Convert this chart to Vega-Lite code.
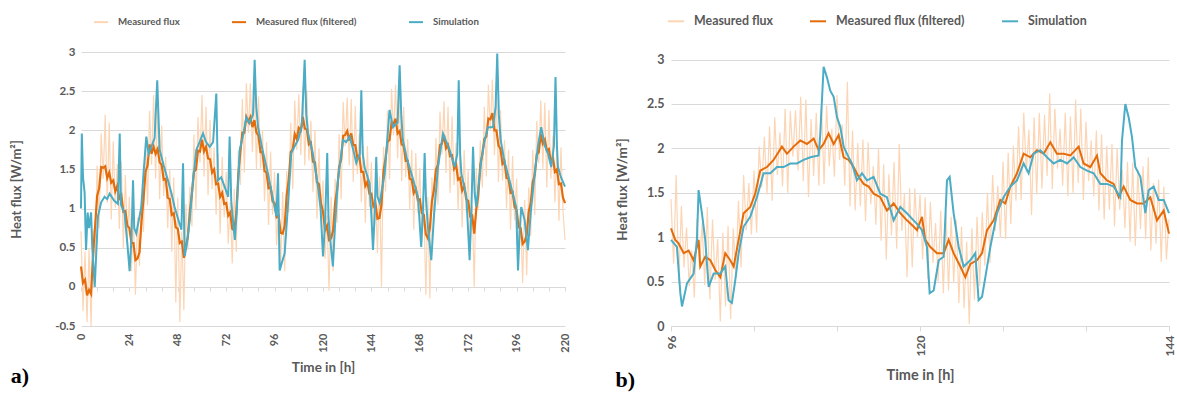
{
"$schema":"https://vega.github.io/schema/vega-lite/v6.json",
"background":"white",
"padding":{"left":10,"top":12,"right":2,"bottom":0},
"config":{"view":{"stroke":null},"font":"Lato",
"axis":{"labelFont":"Lato","titleFont":"Lato","labelColor":"#595959","titleColor":"#595959","labelFontWeight":"bold","titleFontWeight":"bold","gridColor":"#d9d9d9","domainColor":"#d9d9d9","tickColor":"#d9d9d9"}},
"spacing":45,
"resolve":{"scale":{"color":"independent"},"legend":{"color":"independent"}},
"datasets":{
"LM":[{"t":0,"v":0.71},{"t":1,"v":-0.31},{"t":2,"v":0.45},{"t":3,"v":-0.45},{"t":4,"v":0.5},{"t":5,"v":-0.5},{"t":6,"v":0.73},{"t":7,"v":0.36},{"t":8,"v":1.55},{"t":9,"v":0.75},{"t":10,"v":1.96},{"t":11,"v":1.38},{"t":12,"v":2.2},{"t":13,"v":1.07},{"t":14,"v":2.1},{"t":15,"v":0.86},{"t":16,"v":1.86},{"t":17,"v":1.01},{"t":18,"v":1.57},{"t":19,"v":0.74},{"t":20,"v":1.6},{"t":21,"v":0.49},{"t":22,"v":1.43},{"t":23,"v":0.61},{"t":24,"v":1.15},{"t":25,"v":0.2},{"t":26,"v":0.9},{"t":27,"v":-0.1},{"t":28,"v":0.89},{"t":29,"v":0.27},{"t":30,"v":1.15},{"t":31,"v":0.7},{"t":32,"v":1.9},{"t":33,"v":1.04},{"t":34,"v":2.25},{"t":35,"v":1.56},{"t":36,"v":2.45},{"t":37,"v":1.38},{"t":38,"v":2.35},{"t":39,"v":1.12},{"t":40,"v":2.06},{"t":41,"v":1.16},{"t":42,"v":1.66},{"t":43,"v":0.75},{"t":44,"v":1.5},{"t":45,"v":0.45},{"t":46,"v":1.4},{"t":47,"v":-0.2},{"t":48,"v":1.14},{"t":49,"v":-0.45},{"t":50,"v":0.71},{"t":51,"v":-0.3},{"t":52,"v":1.06},{"t":53,"v":0.47},{"t":54,"v":1.28},{"t":55,"v":0.77},{"t":56,"v":1.95},{"t":57,"v":0.99},{"t":58,"v":2.17},{"t":59,"v":1.59},{"t":60,"v":2.45},{"t":61,"v":1.41},{"t":62,"v":2.3},{"t":63,"v":1.17},{"t":64,"v":2.13},{"t":65,"v":1.25},{"t":66,"v":1.78},{"t":67,"v":0.92},{"t":68,"v":1.7},{"t":69,"v":0.68},{"t":70,"v":1.66},{"t":71,"v":0.89},{"t":72,"v":1.47},{"t":73,"v":0.55},{"t":74,"v":1.08},{"t":75,"v":0.3},{"t":76,"v":1.25},{"t":77,"v":0.45},{"t":78,"v":1.74},{"t":79,"v":1.3},{"t":80,"v":2.4},{"t":81,"v":1.46},{"t":82,"v":2.6},{"t":83,"v":1.97},{"t":84,"v":2.6},{"t":85,"v":1.72},{"t":86,"v":2.55},{"t":87,"v":1.5},{"t":88,"v":2.43},{"t":89,"v":1.51},{"t":90,"v":2.0},{"t":91,"v":1.09},{"t":92,"v":1.85},{"t":93,"v":0.79},{"t":94,"v":1.73},{"t":95,"v":0.92},{"t":96,"v":1.47},{"t":97,"v":0.53},{"t":98,"v":1.04},{"t":99,"v":0.25},{"t":100,"v":1.21},{"t":101,"v":0.2},{"t":102,"v":1.48},{"t":103,"v":0.95},{"t":104,"v":2.1},{"t":105,"v":1.25},{"t":106,"v":2.38},{"t":107,"v":1.75},{"t":108,"v":2.46},{"t":109,"v":1.68},{"t":110,"v":2.55},{"t":111,"v":1.55},{"t":112,"v":2.51},{"t":113,"v":1.61},{"t":114,"v":2.12},{"t":115,"v":1.21},{"t":116,"v":2.0},{"t":117,"v":0.87},{"t":118,"v":1.77},{"t":119,"v":0.9},{"t":120,"v":1.36},{"t":121,"v":0.36},{"t":122,"v":0.91},{"t":123,"v":-0.05},{"t":124,"v":1.15},{"t":125,"v":0.2},{"t":126,"v":1.38},{"t":127,"v":0.82},{"t":128,"v":1.95},{"t":129,"v":1.12},{"t":130,"v":2.36},{"t":131,"v":1.8},{"t":132,"v":2.42},{"t":133,"v":1.55},{"t":134,"v":2.4},{"t":135,"v":1.34},{"t":136,"v":2.31},{"t":137,"v":1.44},{"t":138,"v":1.96},{"t":139,"v":1.08},{"t":140,"v":1.8},{"t":141,"v":0.82},{"t":142,"v":1.8},{"t":143,"v":1.02},{"t":144,"v":1.59},{"t":145,"v":0.67},{"t":146,"v":1.2},{"t":147,"v":0.43},{"t":148,"v":1.41},{"t":149,"v":0.0},{"t":150,"v":1.79},{"t":151,"v":1.22},{"t":152,"v":2.25},{"t":153,"v":1.37},{"t":154,"v":2.53},{"t":155,"v":1.94},{"t":156,"v":2.58},{"t":157,"v":1.64},{"t":158,"v":2.45},{"t":159,"v":1.35},{"t":160,"v":2.3},{"t":161,"v":1.4},{"t":162,"v":1.89},{"t":163,"v":0.99},{"t":164,"v":1.75},{"t":165,"v":0.73},{"t":166,"v":1.71},{"t":167,"v":0.94},{"t":168,"v":1.52},{"t":169,"v":0.58},{"t":170,"v":1.05},{"t":171,"v":-0.1},{"t":172,"v":1.15},{"t":173,"v":-0.15},{"t":174,"v":1.4},{"t":175,"v":0.82},{"t":176,"v":1.9},{"t":177,"v":1.05},{"t":178,"v":2.24},{"t":179,"v":1.69},{"t":180,"v":2.37},{"t":181,"v":1.45},{"t":182,"v":2.3},{"t":183,"v":1.2},{"t":184,"v":2.18},{"t":185,"v":1.3},{"t":186,"v":1.84},{"t":187,"v":0.98},{"t":188,"v":1.8},{"t":189,"v":0.76},{"t":190,"v":1.75},{"t":191,"v":0.95},{"t":192,"v":1.5},{"t":193,"v":0.54},{"t":194,"v":1.04},{"t":195,"v":0.0},{"t":196,"v":1.52},{"t":197,"v":1.0},{"t":198,"v":1.87},{"t":199,"v":1.27},{"t":200,"v":2.3},{"t":201,"v":1.41},{"t":202,"v":2.58},{"t":203,"v":2.0},{"t":204,"v":2.65},{"t":205,"v":1.68},{"t":206,"v":2.45},{"t":207,"v":1.34},{"t":208,"v":2.26},{"t":209,"v":1.36},{"t":210,"v":1.88},{"t":211,"v":1.0},{"t":212,"v":1.75},{"t":213,"v":0.73},{"t":214,"v":1.67},{"t":215,"v":0.85},{"t":216,"v":1.38},{"t":217,"v":0.4},{"t":218,"v":0.88},{"t":219,"v":0.05},{"t":220,"v":1.11},{"t":221,"v":0.15},{"t":222,"v":1.27},{"t":223,"v":0.65},{"t":224,"v":1.75},{"t":225,"v":0.92},{"t":226,"v":2.12},{"t":227,"v":1.58},{"t":228,"v":2.38},{"t":229,"v":1.51},{"t":230,"v":2.35},{"t":231,"v":1.27},{"t":232,"v":2.26},{"t":233,"v":1.38},{"t":234,"v":1.93},{"t":235,"v":1.08},{"t":236,"v":1.85},{"t":237,"v":0.84},{"t":238,"v":1.78},{"t":239,"v":0.97},{"t":240,"v":0.6}],
"LF":[{"t":0,"v":0.26},{"t":1,"v":0.05},{"t":2,"v":0.09},{"t":3,"v":-0.11},{"t":4,"v":-0.04},{"t":5,"v":-0.09},{"t":6,"v":0.42},{"t":7,"v":0.78},{"t":8,"v":1.16},{"t":9,"v":1.26},{"t":10,"v":1.53},{"t":11,"v":1.52},{"t":12,"v":1.54},{"t":13,"v":1.39},{"t":14,"v":1.46},{"t":15,"v":1.33},{"t":16,"v":1.36},{"t":17,"v":1.22},{"t":18,"v":1.29},{"t":19,"v":1.13},{"t":20,"v":1.17},{"t":21,"v":0.96},{"t":22,"v":0.97},{"t":23,"v":0.78},{"t":24,"v":0.75},{"t":25,"v":0.56},{"t":26,"v":0.56},{"t":27,"v":0.34},{"t":28,"v":0.36},{"t":29,"v":0.44},{"t":30,"v":0.84},{"t":31,"v":1.12},{"t":32,"v":1.47},{"t":33,"v":1.55},{"t":34,"v":1.82},{"t":35,"v":1.7},{"t":36,"v":1.79},{"t":37,"v":1.7},{"t":38,"v":1.76},{"t":39,"v":1.59},{"t":40,"v":1.56},{"t":41,"v":1.37},{"t":42,"v":1.38},{"t":43,"v":1.14},{"t":44,"v":1.12},{"t":45,"v":0.92},{"t":46,"v":0.94},{"t":47,"v":0.76},{"t":48,"v":0.74},{"t":49,"v":0.56},{"t":50,"v":0.58},{"t":51,"v":0.37},{"t":52,"v":0.53},{"t":53,"v":0.64},{"t":54,"v":0.97},{"t":55,"v":1.19},{"t":56,"v":1.47},{"t":57,"v":1.5},{"t":58,"v":1.74},{"t":59,"v":1.73},{"t":60,"v":1.88},{"t":61,"v":1.73},{"t":62,"v":1.79},{"t":63,"v":1.64},{"t":64,"v":1.63},{"t":65,"v":1.46},{"t":66,"v":1.5},{"t":67,"v":1.31},{"t":68,"v":1.32},{"t":69,"v":1.15},{"t":70,"v":1.2},{"t":71,"v":1.06},{"t":72,"v":1.07},{"t":73,"v":0.91},{"t":74,"v":0.95},{"t":75,"v":0.74},{"t":76,"v":0.72},{"t":77,"v":0.94},{"t":78,"v":1.43},{"t":79,"v":1.72},{"t":80,"v":1.97},{"t":81,"v":1.97},{"t":82,"v":2.17},{"t":83,"v":2.11},{"t":84,"v":2.17},{"t":85,"v":2.04},{"t":86,"v":2.13},{"t":87,"v":1.97},{"t":88,"v":1.93},{"t":89,"v":1.72},{"t":90,"v":1.72},{"t":91,"v":1.48},{"t":92,"v":1.46},{"t":93,"v":1.26},{"t":94,"v":1.27},{"t":95,"v":1.09},{"t":96,"v":1.07},{"t":97,"v":0.89},{"t":98,"v":0.91},{"t":99,"v":0.69},{"t":100,"v":0.68},{"t":101,"v":0.78},{"t":102,"v":1.17},{"t":103,"v":1.37},{"t":104,"v":1.72},{"t":105,"v":1.76},{"t":106,"v":1.95},{"t":107,"v":1.89},{"t":108,"v":2.03},{"t":109,"v":2.0},{"t":110,"v":2.17},{"t":111,"v":2.02},{"t":112,"v":2.01},{"t":113,"v":1.82},{"t":114,"v":1.84},{"t":115,"v":1.6},{"t":116,"v":1.59},{"t":117,"v":1.34},{"t":118,"v":1.31},{"t":119,"v":1.07},{"t":120,"v":0.96},{"t":121,"v":0.72},{"t":122,"v":0.78},{"t":123,"v":0.6},{"t":124,"v":0.62},{"t":125,"v":0.72},{"t":126,"v":1.07},{"t":127,"v":1.24},{"t":128,"v":1.53},{"t":129,"v":1.63},{"t":130,"v":1.93},{"t":131,"v":1.94},{"t":132,"v":1.99},{"t":133,"v":1.87},{"t":134,"v":1.96},{"t":135,"v":1.81},{"t":136,"v":1.81},{"t":137,"v":1.65},{"t":138,"v":1.68},{"t":139,"v":1.47},{"t":140,"v":1.47},{"t":141,"v":1.29},{"t":142,"v":1.34},{"t":143,"v":1.19},{"t":144,"v":1.19},{"t":145,"v":1.03},{"t":146,"v":1.07},{"t":147,"v":0.87},{"t":148,"v":0.88},{"t":149,"v":1.05},{"t":150,"v":1.48},{"t":151,"v":1.64},{"t":152,"v":1.85},{"t":153,"v":1.88},{"t":154,"v":2.1},{"t":155,"v":2.08},{"t":156,"v":2.15},{"t":157,"v":1.96},{"t":158,"v":1.99},{"t":159,"v":1.82},{"t":160,"v":1.8},{"t":161,"v":1.61},{"t":162,"v":1.61},{"t":163,"v":1.38},{"t":164,"v":1.37},{"t":165,"v":1.2},{"t":166,"v":1.25},{"t":167,"v":1.11},{"t":168,"v":1.12},{"t":169,"v":0.94},{"t":170,"v":0.92},{"t":171,"v":0.67},{"t":172,"v":0.62},{"t":173,"v":0.75},{"t":174,"v":1.09},{"t":175,"v":1.24},{"t":176,"v":1.5},{"t":177,"v":1.56},{"t":178,"v":1.81},{"t":179,"v":1.83},{"t":180,"v":1.94},{"t":181,"v":1.77},{"t":182,"v":1.81},{"t":183,"v":1.67},{"t":184,"v":1.68},{"t":185,"v":1.51},{"t":186,"v":1.56},{"t":187,"v":1.37},{"t":188,"v":1.39},{"t":189,"v":1.23},{"t":190,"v":1.29},{"t":191,"v":1.12},{"t":192,"v":1.1},{"t":193,"v":0.9},{"t":194,"v":0.91},{"t":195,"v":0.68},{"t":196,"v":0.99},{"t":197,"v":1.17},{"t":198,"v":1.56},{"t":199,"v":1.69},{"t":200,"v":1.89},{"t":201,"v":1.92},{"t":202,"v":2.15},{"t":203,"v":2.14},{"t":204,"v":2.22},{"t":205,"v":2.0},{"t":206,"v":2.0},{"t":207,"v":1.81},{"t":208,"v":1.76},{"t":209,"v":1.57},{"t":210,"v":1.6},{"t":211,"v":1.39},{"t":212,"v":1.38},{"t":213,"v":1.2},{"t":214,"v":1.21},{"t":215,"v":1.02},{"t":216,"v":0.98},{"t":217,"v":0.76},{"t":218,"v":0.75},{"t":219,"v":0.55},{"t":220,"v":0.58},{"t":221,"v":0.66},{"t":222,"v":0.96},{"t":223,"v":1.07},{"t":224,"v":1.34},{"t":225,"v":1.43},{"t":226,"v":1.69},{"t":227,"v":1.72},{"t":228,"v":1.95},{"t":229,"v":1.83},{"t":230,"v":1.88},{"t":231,"v":1.74},{"t":232,"v":1.76},{"t":233,"v":1.59},{"t":234,"v":1.65},{"t":235,"v":1.47},{"t":236,"v":1.5},{"t":237,"v":1.31},{"t":238,"v":1.32},{"t":239,"v":1.14},{"t":240,"v":1.07}],
"LS":[{"t":0,"v":1.0},{"t":0.4,"v":1.96},{"t":1.0,"v":1.4},{"t":1.8,"v":1.2},{"t":2.5,"v":0.47},{"t":3.3,"v":0.95},{"t":4.0,"v":0.75},{"t":5.0,"v":0.95},{"t":5.6,"v":0.5},{"t":6.8,"v":0.0},{"t":8.4,"v":0.9},{"t":10,"v":1.08},{"t":11.7,"v":1.15},{"t":13,"v":1.12},{"t":14.2,"v":1.19},{"t":16.5,"v":1.1},{"t":18.3,"v":1.06},{"t":19.2,"v":1.96},{"t":19.8,"v":1.05},{"t":21.6,"v":0.94},{"t":23,"v":0.55},{"t":24.1,"v":0.2},{"t":25.0,"v":0.6},{"t":25.8,"v":1.36},{"t":26.4,"v":0.75},{"t":27.4,"v":0.68},{"t":29.9,"v":1.02},{"t":31.0,"v":1.45},{"t":32.4,"v":1.92},{"t":33.5,"v":1.7},{"t":34.9,"v":1.79},{"t":36.5,"v":1.9},{"t":37.8,"v":2.64},{"t":39.0,"v":1.75},{"t":41.0,"v":1.55},{"t":43.1,"v":1.36},{"t":44.8,"v":1.2},{"t":46.4,"v":1.02},{"t":48.0,"v":0.88},{"t":49.8,"v":0.73},{"t":50.6,"v":1.58},{"t":51.4,"v":0.39},{"t":52.5,"v":0.55},{"t":53.9,"v":0.85},{"t":55.5,"v":1.35},{"t":57.2,"v":1.75},{"t":58.8,"v":1.85},{"t":60.5,"v":1.96},{"t":62.0,"v":1.85},{"t":63.8,"v":1.79},{"t":65.5,"v":1.85},{"t":67.1,"v":2.47},{"t":67.9,"v":1.36},{"t":69.5,"v":1.4},{"t":71.2,"v":1.28},{"t":73.0,"v":1.15},{"t":73.7,"v":1.92},{"t":74.5,"v":1.1},{"t":75.5,"v":0.8},{"t":76.3,"v":0.6},{"t":77.3,"v":1.0},{"t":78.7,"v":1.75},{"t":80.5,"v":1.95},{"t":82.0,"v":2.17},{"t":83.6,"v":2.09},{"t":85.3,"v":2.2},{"t":86.1,"v":2.9},{"t":86.9,"v":2.3},{"t":87.8,"v":2.04},{"t":90,"v":1.75},{"t":92.7,"v":1.45},{"t":95,"v":1.15},{"t":96.9,"v":0.9},{"t":97.7,"v":1.45},{"t":98.5,"v":0.21},{"t":99.5,"v":0.3},{"t":101.0,"v":0.43},{"t":102.5,"v":1.0},{"t":104.3,"v":1.71},{"t":106,"v":1.8},{"t":107.6,"v":1.875},{"t":109.5,"v":2.05},{"t":110.9,"v":2.9},{"t":111.7,"v":2.2},{"t":112.6,"v":1.96},{"t":115,"v":1.7},{"t":117.5,"v":1.28},{"t":118.8,"v":1.0},{"t":120.0,"v":0.39},{"t":121.0,"v":0.8},{"t":122.1,"v":1.71},{"t":122.7,"v":0.9},{"t":123.3,"v":0.68},{"t":124.9,"v":0.26},{"t":126.0,"v":0.8},{"t":127.4,"v":1.36},{"t":129.9,"v":1.875},{"t":131.5,"v":1.85},{"t":133.2,"v":1.92},{"t":135,"v":1.75},{"t":136.5,"v":1.58},{"t":138.3,"v":1.7},{"t":139.0,"v":2.51},{"t":139.7,"v":1.7},{"t":140.6,"v":1.53},{"t":143.1,"v":1.32},{"t":144.0,"v":0.9},{"t":144.8,"v":0.47},{"t":145.6,"v":0.9},{"t":146.4,"v":1.66},{"t":147.0,"v":1.15},{"t":148.1,"v":1.07},{"t":150.6,"v":1.45},{"t":153.0,"v":2.26},{"t":154.7,"v":2.04},{"t":157.0,"v":2.1},{"t":158.0,"v":2.83},{"t":158.8,"v":2.2},{"t":159.6,"v":1.875},{"t":161.5,"v":1.65},{"t":163.8,"v":1.45},{"t":167.1,"v":1.15},{"t":168.7,"v":0.51},{"t":169.6,"v":1.0},{"t":170.4,"v":1.71},{"t":171.1,"v":1.1},{"t":172.0,"v":0.77},{"t":173.7,"v":0.34},{"t":175.0,"v":0.9},{"t":177.0,"v":1.53},{"t":179.5,"v":1.96},{"t":182.8,"v":1.75},{"t":185.3,"v":1.53},{"t":186.6,"v":1.7},{"t":187.3,"v":2.64},{"t":188.0,"v":1.7},{"t":188.6,"v":1.45},{"t":191.1,"v":1.15},{"t":192.0,"v":0.7},{"t":192.7,"v":0.34},{"t":193.6,"v":1.0},{"t":194.4,"v":1.79},{"t":195.2,"v":1.2},{"t":196.0,"v":1.02},{"t":198.5,"v":1.62},{"t":200,"v":1.85},{"t":201.8,"v":2.04},{"t":204.3,"v":2.04},{"t":205.6,"v":2.3},{"t":206.4,"v":2.98},{"t":207.2,"v":2.2},{"t":208.1,"v":1.875},{"t":210,"v":1.6},{"t":212.5,"v":1.36},{"t":215.0,"v":1.1},{"t":215.8,"v":1.02},{"t":216.7,"v":0.21},{"t":217.5,"v":0.7},{"t":218.3,"v":1.02},{"t":220.0,"v":0.85},{"t":221.6,"v":0.47},{"t":223,"v":0.95},{"t":225.0,"v":1.45},{"t":226.6,"v":1.8},{"t":228.2,"v":2.04},{"t":230,"v":1.8},{"t":231.5,"v":1.71},{"t":233.2,"v":1.53},{"t":234.5,"v":1.8},{"t":235.3,"v":2.68},{"t":236.0,"v":1.8},{"t":236.5,"v":1.53},{"t":238,"v":1.4},{"t":240,"v":1.28}],
"RM":[{"t":96,"v":1.43},{"t":96.25,"v":0.7},{"t":96.5,"v":1.7},{"t":96.75,"v":0.48},{"t":97,"v":1.35},{"t":97.25,"v":0.66},{"t":97.5,"v":1.11},{"t":97.75,"v":0.45},{"t":98,"v":0.85},{"t":98.25,"v":0.32},{"t":98.5,"v":1.21},{"t":98.75,"v":0.67},{"t":99,"v":1.16},{"t":99.25,"v":0.46},{"t":99.5,"v":1.34},{"t":99.75,"v":0.3},{"t":100,"v":1.2},{"t":100.25,"v":0.52},{"t":100.5,"v":0.98},{"t":100.75,"v":0.05},{"t":101,"v":1.05},{"t":101.25,"v":0.22},{"t":101.5,"v":1.13},{"t":101.75,"v":0.08},{"t":102,"v":1.1},{"t":102.25,"v":0.54},{"t":102.5,"v":1.41},{"t":102.75,"v":0.66},{"t":103,"v":1.7},{"t":103.25,"v":1.08},{"t":103.5,"v":1.61},{"t":103.75,"v":1.03},{"t":104,"v":1.75},{"t":104.25,"v":1.05},{"t":104.5,"v":2.02},{"t":104.75,"v":1.56},{"t":105,"v":2.13},{"t":105.25,"v":1.48},{"t":105.5,"v":2.25},{"t":105.75,"v":1.41},{"t":106,"v":2.35},{"t":106.25,"v":1.7},{"t":106.5,"v":2.18},{"t":106.75,"v":1.57},{"t":107,"v":2.45},{"t":107.25,"v":1.5},{"t":107.5,"v":2.42},{"t":107.75,"v":1.91},{"t":108,"v":2.43},{"t":108.25,"v":1.75},{"t":108.5,"v":2.58},{"t":108.75,"v":1.63},{"t":109,"v":2.55},{"t":109.25,"v":1.45},{"t":109.5,"v":2.33},{"t":109.75,"v":1.69},{"t":110,"v":2.4},{"t":110.25,"v":1.58},{"t":110.5,"v":2.5},{"t":110.75,"v":1.6},{"t":111,"v":2.48},{"t":111.25,"v":1.8},{"t":111.5,"v":2.22},{"t":111.75,"v":1.68},{"t":112,"v":2.6},{"t":112.25,"v":1.87},{"t":112.5,"v":2.27},{"t":112.75,"v":1.58},{"t":113,"v":2.75},{"t":113.25,"v":1.35},{"t":113.5,"v":2.2},{"t":113.75,"v":1.3},{"t":114,"v":2.06},{"t":114.25,"v":1.35},{"t":114.5,"v":2.1},{"t":114.75,"v":1.18},{"t":115,"v":2.07},{"t":115.25,"v":1.37},{"t":115.5,"v":1.8},{"t":115.75,"v":1.14},{"t":116,"v":2.0},{"t":116.25,"v":0.96},{"t":116.5,"v":1.82},{"t":116.75,"v":0.75},{"t":117,"v":1.71},{"t":117.25,"v":1.02},{"t":117.5,"v":1.85},{"t":117.75,"v":0.87},{"t":118,"v":2.05},{"t":118.25,"v":1.07},{"t":118.5,"v":1.49},{"t":118.75,"v":0.55},{"t":119,"v":1.55},{"t":119.25,"v":0.66},{"t":119.5,"v":1.55},{"t":119.75,"v":0.99},{"t":120,"v":1.48},{"t":120.25,"v":0.75},{"t":120.5,"v":1.45},{"t":120.75,"v":0.53},{"t":121,"v":1.4},{"t":121.25,"v":0.71},{"t":121.5,"v":1.16},{"t":121.75,"v":0.5},{"t":122,"v":1.3},{"t":122.25,"v":0.37},{"t":122.5,"v":1.27},{"t":122.75,"v":0.4},{"t":123,"v":1.23},{"t":123.25,"v":0.49},{"t":123.5,"v":1.2},{"t":123.75,"v":0.26},{"t":124,"v":1.12},{"t":124.25,"v":0.2},{"t":124.5,"v":0.95},{"t":124.75,"v":0.02},{"t":125,"v":1.1},{"t":125.25,"v":0.29},{"t":125.5,"v":1.23},{"t":125.75,"v":0.45},{"t":126,"v":1.28},{"t":126.25,"v":0.68},{"t":126.5,"v":1.5},{"t":126.75,"v":0.71},{"t":127,"v":1.7},{"t":127.25,"v":1.07},{"t":127.5,"v":1.58},{"t":127.75,"v":0.99},{"t":128,"v":1.85},{"t":128.25,"v":0.98},{"t":128.5,"v":1.95},{"t":128.75,"v":1.15},{"t":129,"v":2.03},{"t":129.25,"v":1.41},{"t":129.5,"v":2.25},{"t":129.75,"v":1.42},{"t":130,"v":2.4},{"t":130.25,"v":1.73},{"t":130.5,"v":2.21},{"t":130.75,"v":1.25},{"t":131,"v":2.35},{"t":131.25,"v":1.48},{"t":131.5,"v":2.4},{"t":131.75,"v":1.55},{"t":132,"v":2.38},{"t":132.25,"v":1.69},{"t":132.5,"v":2.62},{"t":132.75,"v":1.54},{"t":133,"v":2.45},{"t":133.25,"v":1.77},{"t":133.5,"v":2.22},{"t":133.75,"v":1.58},{"t":134,"v":2.4},{"t":134.25,"v":1.46},{"t":134.5,"v":2.36},{"t":134.75,"v":1.5},{"t":135,"v":2.55},{"t":135.25,"v":1.61},{"t":135.5,"v":2.45},{"t":135.75,"v":1.42},{"t":136,"v":2.3},{"t":136.25,"v":1.63},{"t":136.5,"v":2.09},{"t":136.75,"v":1.46},{"t":137,"v":2.2},{"t":137.25,"v":1.3},{"t":137.5,"v":2.16},{"t":137.75,"v":1.2},{"t":138,"v":2.03},{"t":138.25,"v":1.31},{"t":138.5,"v":2.05},{"t":138.75,"v":1.12},{"t":139,"v":2.0},{"t":139.25,"v":1.31},{"t":139.5,"v":1.76},{"t":139.75,"v":1.1},{"t":140,"v":1.85},{"t":140.25,"v":0.95},{"t":140.5,"v":1.84},{"t":140.75,"v":0.9},{"t":141,"v":1.76},{"t":141.25,"v":1.09},{"t":141.5,"v":1.8},{"t":141.75,"v":0.98},{"t":142,"v":1.9},{"t":142.25,"v":0.85},{"t":142.5,"v":1.61},{"t":142.75,"v":0.93},{"t":143,"v":1.65},{"t":143.25,"v":0.72},{"t":143.5,"v":1.57},{"t":143.75,"v":0.75},{"t":144,"v":1.2}],
"RF":[{"t":96,"v":1.1},{"t":96.41,"v":0.97},{"t":96.73,"v":0.93},{"t":97.22,"v":0.82},{"t":97.7,"v":0.85},{"t":98.18,"v":0.74},{"t":98.66,"v":0.97},{"t":98.82,"v":0.67},{"t":99.3,"v":0.78},{"t":99.79,"v":0.74},{"t":100.27,"v":0.63},{"t":100.75,"v":0.55},{"t":101.23,"v":0.82},{"t":101.71,"v":0.74},{"t":102.04,"v":0.67},{"t":102.52,"v":0.97},{"t":103.0,"v":1.27},{"t":103.64,"v":1.34},{"t":104.12,"v":1.49},{"t":104.6,"v":1.75},{"t":105.25,"v":1.79},{"t":105.89,"v":1.87},{"t":106.69,"v":2.02},{"t":107.18,"v":1.94},{"t":107.82,"v":2.02},{"t":108.46,"v":2.09},{"t":109.1,"v":2.05},{"t":109.75,"v":2.11},{"t":110.23,"v":1.98},{"t":110.71,"v":2.05},{"t":111.19,"v":2.17},{"t":111.68,"v":2.05},{"t":112.16,"v":2.15},{"t":112.64,"v":1.9},{"t":113.12,"v":1.87},{"t":113.6,"v":1.79},{"t":114.08,"v":1.68},{"t":114.57,"v":1.6},{"t":115.05,"v":1.57},{"t":115.53,"v":1.49},{"t":116.17,"v":1.45},{"t":116.81,"v":1.3},{"t":117.46,"v":1.38},{"t":118.1,"v":1.27},{"t":118.74,"v":1.19},{"t":119.38,"v":1.12},{"t":119.71,"v":1.08},{"t":120.19,"v":1.23},{"t":120.51,"v":0.97},{"t":121.0,"v":0.89},{"t":121.64,"v":0.82},{"t":122.28,"v":0.82},{"t":122.76,"v":0.97},{"t":123.24,"v":0.82},{"t":123.89,"v":0.67},{"t":124.37,"v":0.55},{"t":124.85,"v":0.7},{"t":125.49,"v":0.74},{"t":125.98,"v":0.82},{"t":126.46,"v":1.08},{"t":127.1,"v":1.19},{"t":127.74,"v":1.42},{"t":128.22,"v":1.38},{"t":128.71,"v":1.57},{"t":129.35,"v":1.72},{"t":129.99,"v":1.94},{"t":130.63,"v":1.9},{"t":131.28,"v":1.98},{"t":131.92,"v":1.94},{"t":132.56,"v":2.07},{"t":133.2,"v":1.94},{"t":133.85,"v":1.94},{"t":134.49,"v":1.92},{"t":135.29,"v":2.02},{"t":135.77,"v":1.83},{"t":136.42,"v":1.79},{"t":137.06,"v":1.92},{"t":137.38,"v":1.72},{"t":138.02,"v":1.64},{"t":138.67,"v":1.6},{"t":139.15,"v":1.45},{"t":139.63,"v":1.57},{"t":140.27,"v":1.42},{"t":140.92,"v":1.38},{"t":141.56,"v":1.38},{"t":142.2,"v":1.45},{"t":142.84,"v":1.19},{"t":143.49,"v":1.3},{"t":144.0,"v":1.04}],
"RS":[{"t":96,"v":0.97},{"t":96.57,"v":0.89},{"t":96.9,"v":0.37},{"t":97.06,"v":0.22},{"t":97.54,"v":0.48},{"t":98.18,"v":0.59},{"t":98.5,"v":0.97},{"t":98.66,"v":1.53},{"t":98.98,"v":1.27},{"t":99.3,"v":0.97},{"t":99.63,"v":0.44},{"t":100.11,"v":0.59},{"t":100.75,"v":0.59},{"t":101.23,"v":0.67},{"t":101.55,"v":0.29},{"t":101.87,"v":0.26},{"t":102.2,"v":0.52},{"t":102.52,"v":0.82},{"t":103.0,"v":1.12},{"t":103.64,"v":1.23},{"t":104.28,"v":1.45},{"t":104.93,"v":1.72},{"t":105.57,"v":1.72},{"t":106.21,"v":1.79},{"t":106.85,"v":1.79},{"t":107.5,"v":1.83},{"t":108.14,"v":1.83},{"t":108.78,"v":1.87},{"t":109.43,"v":1.9},{"t":110.23,"v":1.92},{"t":110.39,"v":2.17},{"t":110.71,"v":2.92},{"t":111.03,"v":2.8},{"t":111.35,"v":2.65},{"t":111.68,"v":2.58},{"t":112.0,"v":2.35},{"t":112.32,"v":2.24},{"t":112.64,"v":2.02},{"t":113.12,"v":1.9},{"t":113.44,"v":1.83},{"t":113.92,"v":1.64},{"t":114.41,"v":1.72},{"t":114.89,"v":1.64},{"t":115.53,"v":1.68},{"t":116.17,"v":1.49},{"t":116.81,"v":1.45},{"t":117.46,"v":1.19},{"t":118.1,"v":1.34},{"t":118.74,"v":1.27},{"t":119.38,"v":1.19},{"t":119.71,"v":1.15},{"t":120.19,"v":1.08},{"t":120.67,"v":0.89},{"t":120.93,"v":0.37},{"t":121.32,"v":0.4},{"t":121.8,"v":0.74},{"t":122.28,"v":0.78},{"t":122.6,"v":1.64},{"t":122.86,"v":1.68},{"t":123.24,"v":1.27},{"t":123.73,"v":0.89},{"t":124.21,"v":0.67},{"t":124.85,"v":0.74},{"t":125.33,"v":0.82},{"t":125.65,"v":0.29},{"t":125.98,"v":0.33},{"t":126.3,"v":0.55},{"t":126.78,"v":0.89},{"t":127.42,"v":1.27},{"t":128.06,"v":1.45},{"t":128.71,"v":1.57},{"t":129.35,"v":1.64},{"t":129.99,"v":1.83},{"t":130.47,"v":1.72},{"t":130.95,"v":1.94},{"t":131.6,"v":1.98},{"t":132.24,"v":1.9},{"t":132.88,"v":1.83},{"t":133.53,"v":1.87},{"t":134.17,"v":1.83},{"t":134.81,"v":1.9},{"t":135.45,"v":1.79},{"t":136.1,"v":1.75},{"t":136.74,"v":1.72},{"t":137.38,"v":1.6},{"t":138.02,"v":1.6},{"t":138.67,"v":1.57},{"t":139.31,"v":1.45},{"t":139.47,"v":2.09},{"t":139.79,"v":2.5},{"t":140.11,"v":2.35},{"t":140.43,"v":2.13},{"t":140.75,"v":1.79},{"t":141.24,"v":1.68},{"t":141.72,"v":1.27},{"t":142.04,"v":1.53},{"t":142.52,"v":1.57},{"t":143.0,"v":1.42},{"t":143.49,"v":1.42},{"t":144.0,"v":1.27}]
},
"hconcat":[
{"width":484,"height":274,
"title":{"text":"a)","orient":"bottom","anchor":"start","frame":"bounds","font":"Liberation Serif","fontSize":22,"fontWeight":"bold","color":"#000000","offset":-8},
"layer":[
{"data":{"name":"LM"},"mark":{"type":"line","strokeWidth":1.2},
"encoding":{"x":{"field":"t","type":"quantitative","scale":{"domain":[0,240],"nice":false,"zero":false},"axis":{"orient":"bottom","title":"Time in [h]","values":[0,24,48,72,96,120,144,168,192,216,240],"labelExpr":"datum.value==192?'172':datum.value==216?'196':datum.value==240?'220':datum.label","labelAngle":270,"ticks":false,"domain":false,"grid":false,"labelPadding":7,"labelFontSize":11,"titleFontSize":13.5,"titlePadding":8}},
"y":{"field":"v","type":"quantitative","scale":{"domain":[-0.5,3],"nice":false,"zero":false},"axis":{"title":"Heat flux [W/m²]","values":[-0.5,0,0.5,1,1.5,2,2.5,3],"labelExpr":"''+datum.value","domain":false,"ticks":false,"grid":true,"labelPadding":6,"labelFontSize":11.5,"titleFontSize":13,"titlePadding":31}},
"color":{"datum":"Measured flux","type":"nominal","scale":{"domain":["Measured flux","Measured flux (filtered)","Simulation"],"range":["#FCD5B5","#E46C0A","#4BACC6"]},"legend":{"orient":"none","legendX":12,"legendY":-38,"direction":"horizontal","title":null,"symbolType":"stroke","symbolSize":196,"symbolStrokeWidth":2,"labelFontSize":9.7,"labelColor":"#595959","labelFont":"Lato","labelFontWeight":"bold","columnPadding":48,"labelOffset":9}}}},
{"data":{"name":"LF"},"mark":{"type":"line","strokeWidth":2.2},
"encoding":{"x":{"field":"t","type":"quantitative","scale":{"domain":[0,240],"nice":false,"zero":false},"axis":{"orient":"bottom","offset":-39,"values":[0,8,16,24,32,40,48,56,64,72,80,88,96,104,112,120,128,136,144,152,160,168,176,184,192,200,208,216,224,232,240],"labels":false,"ticks":true,"tickSize":4,"domain":true,"grid":false,"title":null}},
"y":{"field":"v","type":"quantitative","scale":{"domain":[-0.5,3],"nice":false,"zero":false},"axis":{"title":"Heat flux [W/m²]","values":[-0.5,0,0.5,1,1.5,2,2.5,3],"labelExpr":"''+datum.value","domain":false,"ticks":false,"grid":true,"labelPadding":6,"labelFontSize":11.5,"titleFontSize":13,"titlePadding":31}},
"color":{"datum":"Measured flux (filtered)","type":"nominal","scale":{"domain":["Measured flux","Measured flux (filtered)","Simulation"],"range":["#FCD5B5","#E46C0A","#4BACC6"]},"legend":{"orient":"none","legendX":12,"legendY":-38,"direction":"horizontal","title":null,"symbolType":"stroke","symbolSize":196,"symbolStrokeWidth":2,"labelFontSize":9.7,"labelColor":"#595959","labelFont":"Lato","labelFontWeight":"bold","columnPadding":48,"labelOffset":9}}}},
{"data":{"name":"LS"},"mark":{"type":"line","strokeWidth":2},
"encoding":{"x":{"field":"t","type":"quantitative","scale":{"domain":[0,240],"nice":false,"zero":false},"axis":null},
"y":{"field":"v","type":"quantitative","scale":{"domain":[-0.5,3],"nice":false,"zero":false},"axis":{"title":"Heat flux [W/m²]","values":[-0.5,0,0.5,1,1.5,2,2.5,3],"labelExpr":"''+datum.value","domain":false,"ticks":false,"grid":true,"labelPadding":6,"labelFontSize":11.5,"titleFontSize":13,"titlePadding":31}},
"color":{"datum":"Simulation","type":"nominal","scale":{"domain":["Measured flux","Measured flux (filtered)","Simulation"],"range":["#FCD5B5","#E46C0A","#4BACC6"]},"legend":{"orient":"none","legendX":12,"legendY":-38,"direction":"horizontal","title":null,"symbolType":"stroke","symbolSize":196,"symbolStrokeWidth":2,"labelFontSize":9.7,"labelColor":"#595959","labelFont":"Lato","labelFontWeight":"bold","columnPadding":48,"labelOffset":9}}}}
],
"resolve":{"axis":{"x":"independent"}}},
{"width":498,"height":274,
"title":{"text":"b)","orient":"bottom","anchor":"start","frame":"bounds","font":"Liberation Serif","fontSize":22,"fontWeight":"bold","color":"#000000","offset":-12},
"layer":[
{"data":{"name":"RM"},"mark":{"type":"line","strokeWidth":1.2},
"encoding":{"x":{"field":"t","type":"quantitative","scale":{"domain":[96,144],"nice":false,"zero":false},"axis":{"title":"Time in [h]","values":[96,104,112,120,128,136,144],"labelExpr":"datum.value % 24 == 0 ? datum.label : ''","labelAngle":270,"ticks":true,"tickSize":5,"domain":true,"grid":false,"labelPadding":4,"labelFontSize":12,"titleFontSize":14.5,"titlePadding":13}},
"y":{"field":"v","type":"quantitative","scale":{"domain":[0,3.0855],"nice":false,"zero":false},"axis":{"title":"Heat flux [W/m²]","values":[0,0.5,1,1.5,2,2.5,3],"labelExpr":"''+datum.value","domain":false,"ticks":false,"grid":true,"labelPadding":7,"labelFontSize":12.5,"titleFontSize":13.5,"titlePadding":17}},
"color":{"datum":"Measured flux","type":"nominal","scale":{"domain":["Measured flux","Measured flux (filtered)","Simulation"],"range":["#FCD5B5","#E46C0A","#4BACC6"]},"legend":{"orient":"none","legendX":-4,"legendY":-40,"direction":"horizontal","title":null,"symbolType":"stroke","symbolSize":256,"symbolStrokeWidth":2,"labelFontSize":12.4,"labelColor":"#595959","labelFont":"Lato","labelFontWeight":"bold","columnPadding":33,"labelOffset":9}}}},
{"data":{"name":"RF"},"mark":{"type":"line","strokeWidth":2},
"encoding":{"x":{"field":"t","type":"quantitative","scale":{"domain":[96,144],"nice":false,"zero":false}},
"y":{"field":"v","type":"quantitative","scale":{"domain":[0,3.0855],"nice":false,"zero":false}},
"color":{"datum":"Measured flux (filtered)","type":"nominal","scale":{"domain":["Measured flux","Measured flux (filtered)","Simulation"],"range":["#FCD5B5","#E46C0A","#4BACC6"]}}}},
{"data":{"name":"RS"},"mark":{"type":"line","strokeWidth":2},
"encoding":{"x":{"field":"t","type":"quantitative","scale":{"domain":[96,144],"nice":false,"zero":false}},
"y":{"field":"v","type":"quantitative","scale":{"domain":[0,3.0855],"nice":false,"zero":false}},
"color":{"datum":"Simulation","type":"nominal","scale":{"domain":["Measured flux","Measured flux (filtered)","Simulation"],"range":["#FCD5B5","#E46C0A","#4BACC6"]}}}}
]}
]
}
